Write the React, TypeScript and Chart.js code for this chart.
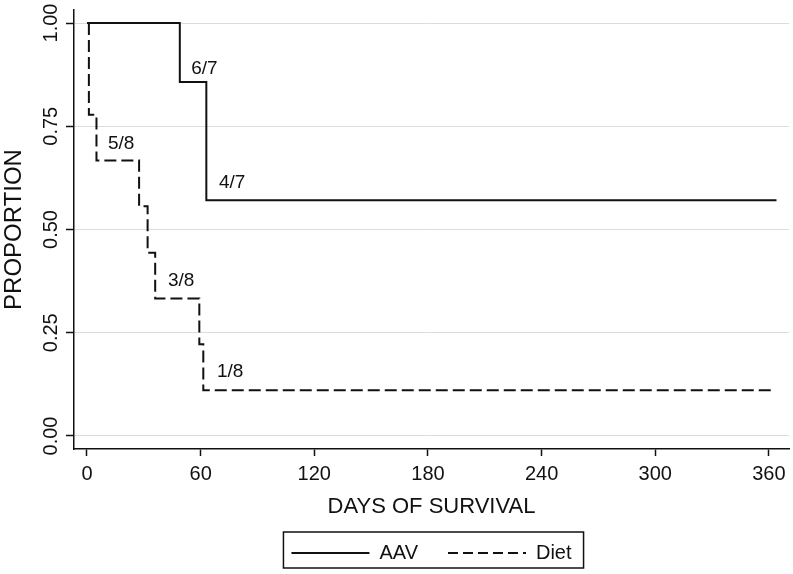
import React, { useEffect, useRef } from "react";
import { Chart, registerables } from "chart.js";

Chart.register(...registerables);

// ---- Data ----
const aavDays = [0, 49, 63, 364];
const aavSurvival = [1.0, 0.857, 0.571, 0.571];
const dietDays = [1, 1, 5, 27.5, 32, 36, 59.3, 61.4, 361];
const dietSurvival = [1.0, 0.778, 0.667, 0.556, 0.444, 0.333, 0.222, 0.111, 0.111];
const xTicks = [0, 60, 120, 180, 240, 300, 360];
const yTicks = [0, 0.25, 0.5, 0.75, 1];
const annotationTexts = ["6/7", "4/7", "5/8", "3/8", "1/8"];
const annotationDays = [55, 69.7, 11.1, 42.7, 68.6];
const annotationValues = [0.89, 0.612, 0.7065, 0.377, 0.155];

const FONT = "'Liberation Sans', Arial, Helvetica, sans-serif";
const INK = "#111111";

const annotationPlugin = {
  id: "kmAnnotations",
  afterDatasetsDraw(chart: any) {
    const { ctx, scales } = chart;
    ctx.save();
    ctx.fillStyle = INK;
    ctx.font = `19px ${FONT}`;
    ctx.textAlign = "left";
    ctx.textBaseline = "middle";
    annotationTexts.forEach((t, i) => {
      const x = scales.x.getPixelForValue(annotationDays[i]);
      const y = scales.y.getPixelForValue(annotationValues[i]);
      ctx.fillText(t, x, y);
    });
    ctx.restore();
  },
};

const legendBoxPlugin = {
  id: "legendBox",
  afterDraw(chart: any) {
    const lg = chart.legend;
    if (!lg || !lg.legendHitBoxes || !lg.legendHitBoxes.length) return;
    const hb = lg.legendHitBoxes;
    const first = hb[0];
    const last = hb[hb.length - 1];
    const cy = first.top + first.height / 2;
    const left = first.left - 8;
    const right = last.left + last.width + 12;
    const top = cy - 21;
    const bottom = cy + 15;
    const ctx = chart.ctx;
    ctx.save();
    ctx.strokeStyle = INK;
    ctx.lineWidth = 1.5;
    ctx.setLineDash([]);
    ctx.strokeRect(left, top, right - left, bottom - top);
    ctx.restore();
  },
};

export default function App() {
  const canvasRef = useRef<HTMLCanvasElement | null>(null);

  useEffect(() => {
    const canvas = canvasRef.current;
    if (!canvas) return;
    const chart = new Chart(canvas, {
      type: "line",
      data: {
        datasets: [
          {
            label: "AAV",
            data: aavDays.map((d, i) => ({ x: d, y: aavSurvival[i] })),
            borderColor: INK,
            backgroundColor: INK,
            borderWidth: 2,
            pointRadius: 0,
            stepped: true,
            fill: false,
          },
          {
            label: "Diet",
            data: dietDays.map((d, i) => ({ x: d, y: dietSurvival[i] })),
            borderColor: INK,
            backgroundColor: INK,
            borderWidth: 2,
            borderDash: [12, 5],
            pointRadius: 0,
            stepped: true,
            fill: false,
          },
        ],
      },
      options: {
        responsive: false,
        devicePixelRatio: 1,
        animation: false,
        events: [],
        layout: { padding: { top: 10, right: 4, bottom: 1, left: 0 } },
        plugins: {
          tooltip: { enabled: false },
          legend: {
            display: true,
            position: "bottom",
            fullSize: false,
            labels: {
              usePointStyle: true,
              pointStyle: "line",
              pointStyleWidth: 78,
              boxHeight: 20,
              padding: 30,
              color: INK,
              font: { family: FONT, size: 20 },
              generateLabels: (chart: any) => {
                const items = (Chart as any).defaults.plugins.legend.labels.generateLabels(chart);
                return items.map((it: any) => {
                  const ds = chart.data.datasets[it.datasetIndex];
                  return {
                    ...it,
                    pointStyle: "line",
                    lineDash: ds.borderDash ? [10, 5] : [],
                    lineWidth: 2,
                    strokeStyle: INK,
                    fillStyle: INK,
                  };
                });
              },
            },
          },
        },
        scales: {
          x: {
            type: "linear",
            min: -6.86,
            max: 370.6,
            afterBuildTicks: (s: any) => {
              s.ticks = xTicks.map((v) => ({ value: v }));
            },
            afterFit: (s: any) => {
              s.height = 64;
            },
            grid: {
              drawOnChartArea: false,
              drawTicks: true,
              tickLength: 7,
              tickColor: INK,
              tickWidth: 1.5,
            },
            border: { display: true, color: INK, width: 1.5 },
            ticks: {
              color: INK,
              font: { family: FONT, size: 20 },
              padding: 6,
              maxRotation: 0,
              autoSkip: false,
            },
            title: {
              display: true,
              text: "DAYS OF SURVIVAL",
              color: INK,
              font: { family: FONT, size: 22, lineHeight: 1.2 },
              padding: { top: 0, bottom: -7 },
            },
          },
          y: {
            type: "linear",
            min: -0.0315,
            max: 1.0315,
            afterBuildTicks: (s: any) => {
              s.ticks = yTicks.map((v) => ({ value: v }));
            },
            afterFit: (s: any) => {
              s.width = 74;
            },
            grid: {
              color: "#dcdcdc",
              lineWidth: 1,
              drawTicks: true,
              tickLength: 8,
              tickColor: INK,
              tickWidth: 1.5,
            },
            border: { display: true, color: INK, width: 1.5 },
            ticks: {
              color: INK,
              font: { family: FONT, size: 20 },
              minRotation: 90,
              maxRotation: 90,
              crossAlign: "center",
              padding: -5,
              callback: (v: any) => Number(v).toFixed(2),
            },
            title: {
              display: true,
              text: "PROPORTION",
              color: INK,
              font: { family: FONT, size: 24, lineHeight: 1.2 },
              padding: { top: 0, bottom: 0 },
            },
          },
        },
      } as any,
      plugins: [annotationPlugin, legendBoxPlugin],
    });
    return () => chart.destroy();
  }, []);

  return (
    <div
      style={{
        position: "fixed",
        left: 0,
        top: 0,
        width: 793,
        height: 574,
        background: "#ffffff",
      }}
    >
      <canvas ref={canvasRef} width={793} height={574} style={{ display: "block" }} />
    </div>
  );
}
